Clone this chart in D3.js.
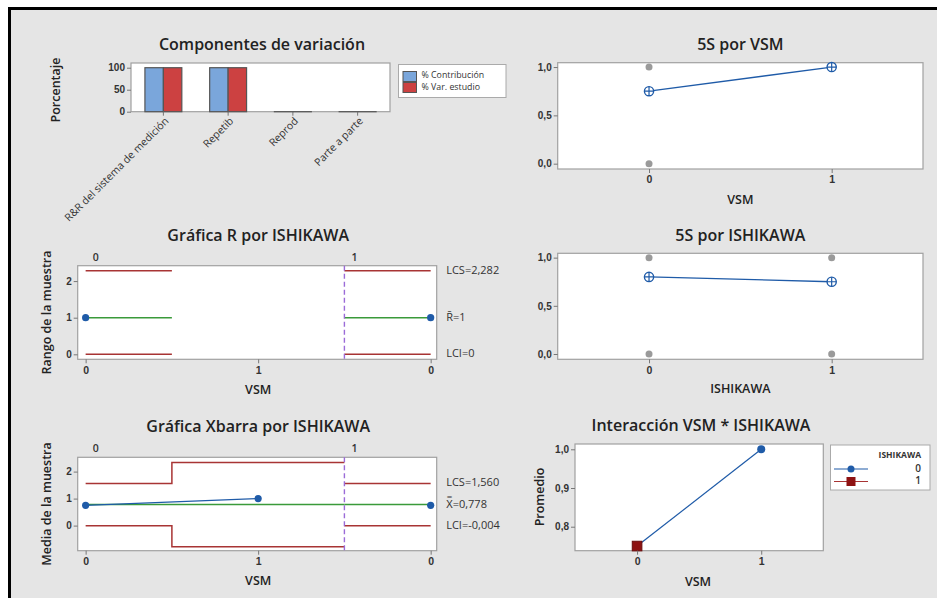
<!DOCTYPE html>
<html lang="es">
<head>
<meta charset="UTF-8" />
<title>Informe R&R - ISHIKAWA</title>
<script src="https://d3js.org/d3.v7.min.js"></script>
<style>
  body { margin: 0; background: #fff; }
  svg { font-family: "Open Sans", "Noto Sans", sans-serif; }
</style>
</head>
<body>
<svg id="chart"></svg>
<script>
// ---- data ----
var componentes = ["R&R del sistema de medición", "Repetib", "Reprod", "Parte a parte"];
var seriesComp = ["% Contribución", "% Var. estudio"];
var pctContribucion = [100, 100, 0, 0];
var pctVarEstudio = [100, 100, 0, 0];

var niveles = [0, 1];
var obsVSM = [[0, 1], [0, 0], [1, 1]];            // [VSM, 5S]
var mediaVSM = [0.75, 1.0];
var obsIshikawa = [[0, 1], [0, 0], [1, 1], [1, 0]]; // [ISHIKAWA, 5S]
var mediaIshikawa = [0.8, 0.75];

// subgroups of the control charts
var subgrupos = [1, 2, 3];
var subgrupoVSM = ["0", "1", "0"];
var subgrupoIshikawa = [0, 0, 1];
var rango = [1, null, 1];
var rLCS = [2.282, null, 2.282];
var rCentral = [1, null, 1];
var rLCI = [0, null, 0];
var media = [0.75, 1.0, 0.75];
var xLCS = [1.560, 2.342, 1.560];
var xLCI = [-0.004, -0.786, -0.004];
var xCentral = 0.778;

var interVSM = [0, 1];
var interIsh0 = [0.75, 1.0];
var interIsh1 = [0.75, null];

// ---- setup ----
var width = 937, height = 598;
var svg = d3.select("#chart").attr("width", width).attr("height", height);

var es = d3.formatLocale({ decimal: ",", thousands: ".", grouping: [3], currency: ["", "€"], minus: "-" });
var f1 = es.format(".1f");
var f3 = es.format(".3f");

var blue = "#1f5ba8", limRed = "#a83434", green = "#3a9a3a";

svg.append("rect").attr("x", 8).attr("y", 7).attr("width", width - 8).attr("height", height - 7)
  .attr("fill", "#e5e5e5");
svg.append("path").attr("d", "M9.5," + height + "V8.5H" + width)
  .attr("fill", "none").attr("stroke", "#000").attr("stroke-width", 3);

function frame(f) {
  var g = svg.append("g");
  g.append("rect").attr("x", f.x).attr("y", f.y).attr("width", f.w).attr("height", f.h)
    .attr("fill", "#fff").attr("stroke", "#a0a0a0").attr("stroke-width", 1.2);
  return g;
}

function title(text, x, y) {
  svg.append("text").attr("x", x).attr("y", y).attr("text-anchor", "middle")
    .attr("dominant-baseline", "middle").attr("font-size", 16).attr("font-weight", 600)
    .attr("fill", "#222").text(text);
}

function axisLabel(text, x, y, rotate) {
  svg.append("text").attr("transform", "translate(" + x + "," + y + ")" + (rotate ? " rotate(-90)" : ""))
    .attr("text-anchor", "middle").attr("dominant-baseline", "middle")
    .attr("font-size", 12.5).attr("font-weight", 600).attr("fill", "#222").text(text);
}

function yAxis(g, f, y, ticks, fmt) {
  var a = g.append("g").attr("transform", "translate(" + f.x + ",0)")
    .call(d3.axisLeft(y).tickValues(ticks).tickSize(4).tickPadding(2).tickFormat(fmt));
  a.select(".domain").remove();
  a.selectAll("line").attr("stroke", "#777");
  a.selectAll("text").attr("font-size", 10).attr("font-weight", 600).attr("fill", "#333");
}

function xAxis(g, f, x, ticks, fmt) {
  var a = g.append("g").attr("transform", "translate(0," + (f.y + f.h) + ")")
    .call(d3.axisBottom(x).tickValues(ticks).tickSize(4).tickPadding(3).tickFormat(fmt));
  a.select(".domain").remove();
  a.selectAll("line").attr("stroke", "#777");
  a.selectAll("text").attr("font-size", 10.5).attr("font-weight", 600).attr("fill", "#333");
}

function meanMarker(g, cx, cy) {
  g.append("circle").attr("cx", cx).attr("cy", cy).attr("r", 4.6)
    .attr("fill", "#fff").attr("stroke", blue).attr("stroke-width", 1.4);
  g.append("path").attr("d", "M" + (cx - 4.6) + "," + cy + "H" + (cx + 4.6) + "M" + cx + "," + (cy - 4.6) + "V" + (cy + 4.6))
    .attr("stroke", blue).attr("stroke-width", 1.2);
}

// ---- 1. Componentes de variación ----
(function () {
  var f = { x: 131, y: 63, w: 259, h: 48.7 };
  var g = frame(f);
  var x = d3.scaleBand().domain(componentes).range([f.x, f.x + f.w]).paddingInner(0.43).paddingOuter(0.215);
  var xs = d3.scaleBand().domain(seriesComp).range([0, x.bandwidth()]);
  var y = d3.scaleLinear().domain([0, 110.7]).range([f.y + f.h, f.y]);
  var colors = ["#7aa6db", "#cc4141"];
  var vals = [pctContribucion, pctVarEstudio];
  seriesComp.forEach(function (s, si) {
    g.selectAll(".b" + si).data(componentes).enter().append("rect")
      .attr("x", function (d) { return x(d) + xs(s); })
      .attr("y", function (d, i) { return y(vals[si][i]); })
      .attr("width", xs.bandwidth())
      .attr("height", function (d, i) { return Math.max(0.01, y(0) - y(vals[si][i])); })
      .attr("fill", colors[si]).attr("stroke", "#555").attr("stroke-width", 1.2);
  });
  yAxis(g, f, y, [0, 50, 100], d3.format("d"));
  var ax = g.append("g").attr("transform", "translate(0," + (f.y + f.h) + ")")
    .call(d3.axisBottom(x).tickSize(4).tickFormat(""));
  ax.select(".domain").remove();
  ax.selectAll("line").attr("stroke", "#777");
  componentes.forEach(function (c) {
    g.append("text").attr("transform", "translate(" + (x(c) + x.bandwidth() / 2 + 4) + "," + (f.y + f.h + 8) + ") rotate(-45)")
      .attr("text-anchor", "end").attr("dominant-baseline", "middle")
      .attr("font-size", 10.5).attr("fill", "#333").text(c);
  });
  axisLabel("Porcentaje", 57, 90, true);
  title("Componentes de variación", 262, 46);
  // legend
  var lg = svg.append("g");
  lg.append("rect").attr("x", 398.5).attr("y", 64.5).attr("width", 107.5).attr("height", 33)
    .attr("fill", "#fff").attr("stroke", "#aaa");
  seriesComp.forEach(function (s, i) {
    lg.append("rect").attr("x", 403).attr("y", 71.5 + i * 11).attr("width", 13.5).attr("height", 10)
      .attr("fill", colors[i]).attr("stroke", "#555");
    lg.append("text").attr("x", 421.5).attr("y", 76 + i * 12).attr("dominant-baseline", "middle")
      .attr("font-size", 8.8).attr("fill", "#333").text(s);
  });
})();

// ---- 2 & 4. 5S por VSM / 5S por ISHIKAWA ----
function mainEffect(f, obs, medias, ttl, ty, xlab, xly) {
  var g = frame(f);
  var x = d3.scaleLinear().domain([-0.5, 1.5]).range([f.x, f.x + f.w]);
  var y = d3.scaleLinear().domain([-0.055, 1.045]).range([f.y + f.h, f.y]);
  g.selectAll(".obs").data(obs).enter().append("circle")
    .attr("cx", function (d) { return x(d[0]); }).attr("cy", function (d) { return y(d[1]); })
    .attr("r", 3.5).attr("fill", "#9a9a9a");
  g.append("path").datum(medias)
    .attr("d", d3.line().x(function (d, i) { return x(niveles[i]); }).y(function (d) { return y(d); }))
    .attr("fill", "none").attr("stroke", blue).attr("stroke-width", 1.3);
  medias.forEach(function (m, i) { meanMarker(g, x(niveles[i]), y(m)); });
  yAxis(g, f, y, [0, 0.5, 1], f1);
  xAxis(g, f, x, niveles, d3.format("d"));
  title(ttl, f.x + f.w / 2, ty);
  axisLabel(xlab, f.x + f.w / 2, xly, false);
}
mainEffect({ x: 557.7, y: 62.7, w: 365.3, h: 106.3 }, obsVSM, mediaVSM, "5S por VSM", 46, "VSM", 201);
mainEffect({ x: 557.7, y: 253.3, w: 365.3, h: 106 }, obsIshikawa, mediaIshikawa, "5S por ISHIKAWA", 237, "ISHIKAWA", 390);

// ---- 3 & 5. control charts by ISHIKAWA ----
function runs(vals) {
  // step segments per subgroup, joined inside the same ISHIKAWA group
  var out = [], cur = [];
  subgrupos.forEach(function (p, i) {
    var v = vals[i];
    var newGroup = i > 0 && subgrupoIshikawa[i] !== subgrupoIshikawa[i - 1];
    if (v == null || newGroup) { if (cur.length) out.push(cur); cur = []; }
    if (v == null) return;
    var x0 = Math.max(p - 0.5, subgrupos[0]), x1 = Math.min(p + 0.5, subgrupos[subgrupos.length - 1]);
    cur.push([x0, v], [x1, v]);
  });
  if (cur.length) out.push(cur);
  return out;
}

function controlChart(f, ydom, yticks, lcs, central, lci, vals, labels, ttl, ty, ylab) {
  var g = frame(f);
  var x = d3.scaleLinear().domain([0.954, 3.035]).range([f.x, f.x + f.w]);
  var y = d3.scaleLinear().domain(ydom).range([f.y + f.h, f.y]);
  var line = d3.line().x(function (d) { return x(d[0]); }).y(function (d) { return y(d[1]); });
  [[lcs, limRed], [lci, limRed], [central, green]].forEach(function (s) {
    runs(s[0]).forEach(function (r) {
      g.append("path").attr("d", line(r)).attr("fill", "none").attr("stroke", s[1]).attr("stroke-width", 1.5);
    });
  });
  // group boundary
  subgrupos.forEach(function (p, i) {
    if (i > 0 && subgrupoIshikawa[i] !== subgrupoIshikawa[i - 1]) {
      var bx = x((p + subgrupos[i - 1]) / 2);
      g.append("line").attr("x1", bx).attr("x2", bx).attr("y1", f.y).attr("y2", f.y + f.h)
        .attr("stroke", "#9b6bd8").attr("stroke-width", 1.4).attr("stroke-dasharray", "5,3");
    }
  });
  // data line inside each group
  var pts = subgrupos.map(function (p, i) { return [p, vals[i], subgrupoIshikawa[i]]; })
    .filter(function (d) { return d[1] != null; });
  d3.groups(pts, function (d) { return d[2]; }).forEach(function (grp) {
    if (grp[1].length > 1)
      g.append("path").attr("d", line(grp[1])).attr("fill", "none").attr("stroke", blue).attr("stroke-width", 1.3);
  });
  g.selectAll(".pt").data(pts).enter().append("circle")
    .attr("cx", function (d) { return x(d[0]); }).attr("cy", function (d) { return y(d[1]); })
    .attr("r", 3.6).attr("fill", blue);
  yAxis(g, f, y, yticks, d3.format("d"));
  xAxis(g, f, x, subgrupos, function (d, i) { return subgrupoVSM[i]; });
  // ISHIKAWA group labels on top
  subgrupos.forEach(function (p, i) {
    if (i === 0 || subgrupoIshikawa[i] !== subgrupoIshikawa[i - 1]) {
      var start = Math.max(p - 0.5, subgrupos[0]);
      g.append("text").attr("x", x(start) + 10).attr("y", f.y - 8).attr("text-anchor", "middle")
        .attr("dominant-baseline", "middle").attr("font-size", 10.5).attr("font-weight", 600)
        .attr("fill", "#333").text(subgrupoIshikawa[i]);
    }
  });
  // limit labels
  labels.forEach(function (l) {
    g.append("text").attr("x", f.x + f.w + 9.5).attr("y", y(l[0])).attr("dominant-baseline", "middle")
      .attr("font-size", 11).attr("fill", "#333").text(l[1]);
  });
  title(ttl, f.x + f.w / 2 + 1, ty);
  axisLabel(ylab, 48, f.y + f.h / 2, true);
  axisLabel("VSM", f.x + f.w / 2 + 1, f.y + f.h + 31, false);
}

var rFirst = rLCS.find(function (d) { return d != null; });
controlChart({ x: 77.7, y: 265.7, w: 359, h: 93.6 }, [-0.136, 2.42], [0, 1, 2],
  rLCS, rCentral, rLCI, rango,
  [[rFirst, "LCS=" + f3(rFirst)], [rCentral[0], "R\u0304=" + rCentral[0]], [rLCI[0], "LCI=" + rLCI[0]]],
  "Gráfica R por ISHIKAWA", 237, "Rango de la muestra");

controlChart({ x: 77.7, y: 457.3, w: 359, h: 93.4 }, [-0.93, 2.53], [0, 1, 2],
  xLCS, subgrupos.map(function () { return xCentral; }), xLCI, media,
  [[xLCS[0], "LCS=" + f3(xLCS[0])], [xCentral, "X\u033F=" + f3(xCentral)],
   [xLCI[0], "LCI=" + f3(xLCI[0])]],
  "Gráfica Xbarra por ISHIKAWA", 427.5, "Media de la muestra");

// ---- 6. Interacción VSM * ISHIKAWA ----
(function () {
  var f = { x: 575, y: 444, w: 248.3, h: 106.7 };
  var g = frame(f);
  var x = d3.scaleLinear().domain([-0.5, 1.5]).range([f.x, f.x + f.w]);
  var y = d3.scaleLinear().domain([0.738, 1.0137]).range([f.y + f.h, f.y]);
  var line = d3.line().defined(function (d) { return d != null; })
    .x(function (d, i) { return x(interVSM[i]); }).y(function (d) { return y(d); });
  g.append("path").datum(interIsh0).attr("d", line).attr("fill", "none").attr("stroke", blue).attr("stroke-width", 1.2);
  g.append("path").datum(interIsh1).attr("d", line).attr("fill", "none").attr("stroke", limRed).attr("stroke-width", 1.2);
  interIsh0.forEach(function (v, i) {
    if (v != null) g.append("circle").attr("cx", x(interVSM[i])).attr("cy", y(v)).attr("r", 4).attr("fill", blue);
  });
  interIsh1.forEach(function (v, i) {
    if (v != null) g.append("rect").attr("x", x(interVSM[i]) - 4.8).attr("y", y(v) - 4.8)
      .attr("width", 9.6).attr("height", 9.6).attr("fill", "#8e1212").attr("stroke", "#6a0c0c");
  });
  yAxis(g, f, y, [0.8, 0.9, 1.0], f1);
  xAxis(g, f, x, interVSM, d3.format("d"));
  title("Interacción VSM * ISHIKAWA", 701, 427);
  axisLabel("Promedio", 541, 497, true);
  axisLabel("VSM", 698, 583, false);
  // legend
  var lg = svg.append("g");
  lg.append("rect").attr("x", 830.5).attr("y", 445).attr("width", 99.5).attr("height", 45)
    .attr("fill", "#fff").attr("stroke", "#aaa");
  lg.append("text").attr("x", 921).attr("y", 456).attr("text-anchor", "end").attr("dominant-baseline", "middle")
    .attr("font-size", 8.5).attr("font-weight", 700).attr("fill", "#333").text("ISHIKAWA");
  [[0, blue], [1, limRed]].forEach(function (e, i) {
    var ly = 469 + i * 12.5;
    lg.append("line").attr("x1", 834).attr("x2", 868).attr("y1", ly).attr("y2", ly).attr("stroke", e[1]).attr("stroke-width", 1.2);
    if (i === 0) lg.append("circle").attr("cx", 851).attr("cy", ly).attr("r", 3.5).attr("fill", blue);
    else lg.append("rect").attr("x", 846.5).attr("y", ly - 4.5).attr("width", 9).attr("height", 9).attr("fill", "#8e1212");
    lg.append("text").attr("x", 921).attr("y", ly).attr("text-anchor", "end").attr("dominant-baseline", "middle")
      .attr("font-size", 10).attr("font-weight", 600).attr("fill", "#333").text(e[0]);
  });
})();
</script>
</body>
</html>
